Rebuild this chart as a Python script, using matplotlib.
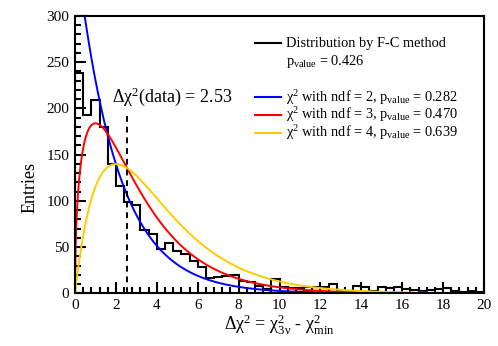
import numpy as np
import matplotlib
matplotlib.use('Agg')
import matplotlib.pyplot as plt
from matplotlib.ticker import MultipleLocator
from math import gamma

##############################################################################
# DATA
bin_edges = np.linspace(0, 20, 51)   # 50 bins, width 0.4
counts = [238, 193, 209, 180, 140, 116, 99, 95, 68, 64,
          48, 54, 46, 42, 35, 28, 17, 18, 19, 20,
          13, 12, 8, 5, 15, 7, 6, 6, 7, 7,
          7, 10, 4, 3, 8, 7, 3, 7, 6, 7,
          5, 4, 3, 4, 5, 6, 3, 1, 3, 1]
n_total = 1900          # normalisation of the chi2 curves
ndf_list = [2, 3, 4]
pvalues = ['0.282', '0.470', '0.639']
curve_colors = ['#0000ff', '#ff0000', '#ffcc00']
pvalue_fc = '0.426'
delta_chi2_data = 2.53

##############################################################################
def chi2_pdf(x, k):
    return x**(k/2 - 1)*np.exp(-x/2)/(2**(k/2)*gamma(k/2))

plt.rcParams['font.family'] = ['Liberation Serif', 'DejaVu Serif']
plt.rcParams['mathtext.fontset'] = 'custom'
plt.rcParams['mathtext.rm'] = 'Liberation Serif'
plt.rcParams['mathtext.it'] = 'Liberation Serif'
plt.rcParams['mathtext.default'] = 'rm'
plt.rcParams['font.size'] = 10.4

fig = plt.figure(figsize=(4.98, 3.46), dpi=100)
ax = fig.add_axes([0.1506, 0.1523, 0.8213, 0.8015])

bin_width = bin_edges[1] - bin_edges[0]
ax.stairs(counts, bin_edges, color='black', lw=1.5)

x = np.linspace(0.001, 20, 800)
for k, c in zip(ndf_list, curve_colors):
    ax.plot(x, n_total*bin_width*chi2_pdf(x, k), color=c, lw=1.4)

ax.vlines(delta_chi2_data, 0, 195, colors='black', linestyles=(0, (3, 2.5)), lw=1.4)
ax.text(1.81, 207, r'$\Delta\chi^2$(data) = %.2f' % delta_chi2_data,
        ha='left', va='baseline', fontsize=13)

ax.set_xlim(0, 20)
ax.set_ylim(0, 300)
ax.xaxis.set_major_locator(MultipleLocator(2))
ax.xaxis.set_minor_locator(MultipleLocator(0.4))
ax.yaxis.set_major_locator(MultipleLocator(50))
ax.yaxis.set_minor_locator(MultipleLocator(10))
ax.tick_params(which='both', direction='in', top=False, right=False, labelsize=11)
ax.tick_params(which='major', length=8, width=1.5, pad=4)
ax.tick_params(which='minor', length=4, width=1.5)
for s in ax.spines.values():
    s.set_linewidth(1.5)

ax.set_xlabel(r'$\Delta\chi^2$ = $\chi^2_{3\nu}$ - $\chi^2_{\rm min}$', fontsize=13)
ax.xaxis.set_label_coords(0.5, -0.07)
ax.set_ylabel('Entries', fontsize=13)
ax.yaxis.set_label_coords(-0.09, 0.383)

# legend, laid out by hand (ROOT TLegend style)
tr = ax.transAxes
line_x = [0.440, 0.503]
text_x = 0.516
ax.plot(line_x, [0.9015, 0.9015], color='black', lw=1.5, transform=tr)
ax.text(text_x, 0.889, 'Distribution by F-C method', transform=tr, va='baseline')
ax.text(text_x, 0.823, r'p$_{\rm value}$ = %s' % pvalue_fc, transform=tr, va='baseline')
row_line_y = [0.709, 0.643, 0.579]
row_base_y = [0.691, 0.627, 0.5626]
for k, c, p, ly, by in zip(ndf_list, curve_colors, pvalues, row_line_y, row_base_y):
    ax.plot(line_x, [ly, ly], color=c, lw=1.5, transform=tr)
    ax.text(text_x, by, r'$\chi^2$ with ndf = %d, p$_{\rm value}$ = %s' % (k, p),
            transform=tr, va='baseline')

plt.savefig('out.png', dpi=100)
plt.close()
